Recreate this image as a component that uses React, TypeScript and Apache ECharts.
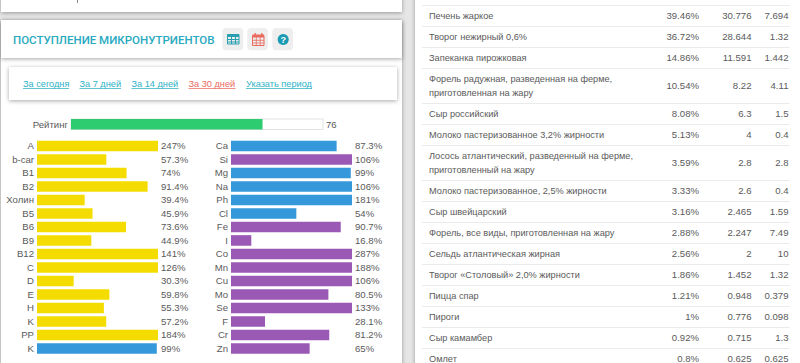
import React, { useEffect, useRef } from "react";
import * as echarts from "echarts";

const FONT = "'Liberation Sans', Arial, sans-serif";
const TABLE_FONT = "'Liberation Sans', Arial, sans-serif";
const YELLOW = "#f4dc00";
const BLUE = "#3498db";
const PURPLE = "#9b59b6";
const TEXT = "#5a5a5a";
const TEAL = "#27a9bf";

const ratingValue = 76;
const vitaminNames = ["A", "b-car", "B1", "B2", "Холин", "B5", "B6", "B9", "B12", "C", "D", "E", "H", "K", "PP", "K"];
const vitaminValues = [247, 57.3, 74, 91.4, 39.4, 45.9, 73.6, 44.9, 141, 126, 30.3, 59.8, 55.3, 57.2, 184, 99];
const vitaminColors = [YELLOW, YELLOW, YELLOW, YELLOW, YELLOW, YELLOW, YELLOW, YELLOW, YELLOW, YELLOW, YELLOW, YELLOW, YELLOW, YELLOW, YELLOW, BLUE];
const mineralNames = ["Ca", "Si", "Mg", "Na", "Ph", "Cl", "Fe", "I", "Co", "Mn", "Cu", "Mo", "Se", "F", "Cr", "Zn"];
const mineralValues = [87.3, 106, 99, 106, 181, 54, 90.7, 16.8, 287, 188, 106, 80.5, 133, 28.1, 81.2, 65];
const mineralColors = [BLUE, PURPLE, BLUE, BLUE, BLUE, BLUE, PURPLE, PURPLE, PURPLE, PURPLE, PURPLE, PURPLE, PURPLE, PURPLE, PURPLE, PURPLE];

const periodLinks = ["За сегодня", "За 7 дней", "За 14 дней", "За 30 дней", "Указать период"];
const periodLinkStart = [23, 79.5, 131.5, 188.5, 246];
const periodLinkEnd = [69, 121, 178.5, 235.5, 312];

const foodNames = [
  "Печень жаркое",
  "Творог нежирный 0,6%",
  "Запеканка пирожковая",
  "Форель радужная, разведенная на ферме,\nприготовленная на жару",
  "Сыр российский",
  "Молоко пастеризованное 3,2% жирности",
  "Лосось атлантический, разведенный на ферме,\nприготовленный на жару",
  "Молоко пастеризованное, 2,5% жирности",
  "Сыр швейцарский",
  "Форель, все виды, приготовленная на жару",
  "Сельдь атлантическая жирная",
  "Творог «Столовый» 2,0% жирности",
  "Пицца спар",
  "Пироги",
  "Сыр камамбер",
  "Омлет",
];
const foodShare = ["39.46%", "36.72%", "14.86%", "10.54%", "8.08%", "5.13%", "3.59%", "3.33%", "3.16%", "2.88%", "2.56%", "1.86%", "1.21%", "1%", "0.92%", "0.8%"];
const foodAmount = ["30.776", "28.644", "11.591", "8.22", "6.3", "4", "2.8", "2.6", "2.465", "2.247", "2", "1.452", "0.948", "0.776", "0.715", "0.625"];
const foodPortion = ["7.694", "1.32", "1.442", "4.11", "1.5", "0.4", "2.8", "0.4", "1.59", "7.49", "10", "1.32", "0.379", "0.098", "1.3", "0.625"];

function tableGraphics() {
  const out: any[] = [];
  let y = 4.5;
  const line = (yy: number) => ({
    type: "rect",
    shape: { x: 422, y: Math.round(yy), width: 368, height: 1 },
    style: { fill: "#e9eced" },
    silent: true,
  });
  out.push(line(y));
  foodNames.forEach((name, i) => {
    const two = name.includes("\n");
    const h = two ? 35 : 21;
    const cy = y + h / 2 + 0.5;
    out.push({
      type: "text", x: 429, y: cy,
      style: { text: name, font: `9.2px ${TABLE_FONT}`, lineHeight: 14, fill: TEXT, align: "left", verticalAlign: "middle" },
    });
    [[699, foodShare[i]], [751.5, foodAmount[i]], [788.5, foodPortion[i]]].forEach(([x, t]) => {
      out.push({
        type: "text", x: x as number, y: cy,
        style: { text: t as string, font: `9.6px ${TABLE_FONT}`, fill: TEXT, align: "right", verticalAlign: "middle" },
      });
    });
    y += h;
    out.push(line(y));
  });
  return out;
}

const panel = (x: number, y: number, w: number, h: number, z = 0) => ({
  type: "rect", z,
  shape: { x, y, width: w, height: h },
  style: { fill: "#ffffff", shadowBlur: 4, shadowColor: "rgba(0,0,0,0.35)", shadowOffsetX: 0, shadowOffsetY: 1 },
  silent: true,
});

function chromeGraphics() {
  const out: any[] = [
    panel(1, 20, 401, 360, 0),
    panel(1, -20, 401, 32, 0),
    panel(415, -10, 400, 400, 0),
    panel(1, 20, 401, 38, 1),
    panel(9, 67, 388, 33, 1),
    { type: "rect", z: 1, shape: { x: 77, y: 0, width: 1, height: 3 }, style: { fill: "#888888" } },
    {
      type: "text", z: 2, x: 13, y: 39.5,
      style: { text: "ПОСТУПЛЕНИЕ МИКРОНУТРИЕНТОВ", font: `500 11.5px Roboto, sans-serif`, fill: TEAL, align: "left", verticalAlign: "middle" },
    },
  ];
  [[222.3, 21], [247.3, 20.7], [272.3, 20.7]].forEach(([x, w]) => {
    out.push({
      type: "rect", z: 2,
      shape: { x, y: 28, width: w, height: 22.3, r: 4 },
      style: { fill: "#eeeeee" },
    });
  });
  // table icon
  out.push({ type: "rect", z: 3, shape: { x: 227.5, y: 34.5, width: 11.5, height: 9.5 }, style: { fill: "none", stroke: "#2a9fb0", lineWidth: 1 } });
  out.push({ type: "rect", z: 3, shape: { x: 227.5, y: 34.5, width: 11.5, height: 2.5 }, style: { fill: "#2a9fb0" } });
  [231.5, 235.5].forEach((x) => out.push({ type: "line", z: 3, shape: { x1: x, y1: 35, x2: x, y2: 44 }, style: { stroke: "#2a9fb0", lineWidth: 1 } }));
  [39.5, 42].forEach((y) => out.push({ type: "line", z: 3, shape: { x1: 228, y1: y, x2: 239, y2: y }, style: { stroke: "#2a9fb0", lineWidth: 1 } }));
  // calendar icon
  out.push({ type: "rect", z: 3, shape: { x: 252.5, y: 35.5, width: 11.5, height: 10 }, style: { fill: "none", stroke: "#ea6a5e", lineWidth: 1 } });
  out.push({ type: "rect", z: 3, shape: { x: 252.5, y: 34.5, width: 11.5, height: 3 }, style: { fill: "#ea6a5e" } });
  [255, 261.5].forEach((x) => out.push({ type: "rect", z: 3, shape: { x: x - 0.5, y: 33, width: 1.4, height: 2 }, style: { fill: "#ea6a5e" } }));
  [256.3, 260.2].forEach((x) => out.push({ type: "line", z: 3, shape: { x1: x, y1: 37, x2: x, y2: 45.5 }, style: { stroke: "#ea6a5e", lineWidth: 0.8 } }));
  [40.3, 43].forEach((y) => out.push({ type: "line", z: 3, shape: { x1: 253, y1: y, x2: 264, y2: y }, style: { stroke: "#ea6a5e", lineWidth: 0.8 } }));
  // help icon
  out.push({ type: "circle", z: 3, shape: { cx: 283.2, cy: 39.5, r: 5.5 }, style: { fill: "#1b9bb3" } });
  out.push({
    type: "text", z: 4, x: 283.2, y: 39.8,
    style: { text: "?", font: `bold 9px ${FONT}`, fill: "#ffffff", align: "center", verticalAlign: "middle" },
  });
  // links
  periodLinks.forEach((t, i) => {
    const color = i === 3 ? "#ea6a5e" : "#2db2c6";
    const scaleW = periodLinkEnd[i] - periodLinkStart[i];
    out.push({
      type: "text", z: 3, x: periodLinkStart[i], y: 83.5,
      style: { text: t, font: `9.2px ${FONT}`, fill: color, align: "left", verticalAlign: "middle" },
    });
    out.push({
      type: "rect", z: 3,
      shape: { x: periodLinkStart[i], y: 88, width: scaleW, height: 1 },
      style: { fill: color, opacity: 0.75 },
    });
  });
  return out;
}

const axisLabel = { color: TEXT, fontFamily: FONT, fontSize: 9.6 };

function barSet(idx: number, left: number, names: string[], values: number[], colors: string[]) {
  const grid = { left, top: 139.2, width: 121, height: 216, containLabel: false };
  const xAxis = { gridIndex: idx, type: "value", min: 0, max: 100, show: false };
  const mk = (position: string, data: string[]) => ({
    gridIndex: idx,
    type: "category",
    inverse: true,
    position,
    data,
    axisLine: { show: false },
    axisTick: { show: false },
    axisLabel: { ...axisLabel, margin: 3, align: position === "left" ? "right" : "left", interval: 0 },
  });
  return { grid, xAxis, yAxes: [mk("left", names), mk("right", values.map((v) => `${v}%`))] };
}

export default function App() {
  const ref = useRef<HTMLDivElement>(null);
  useEffect(() => {
    if (!ref.current) return;
    const chart = echarts.init(ref.current, undefined, { renderer: "svg" });
    const a = barSet(1, 37, vitaminNames, vitaminValues, vitaminColors);
    const b = barSet(2, 231, mineralNames, mineralValues, mineralColors);
    const bar = (xAxisIndex: number, yAxisIndex: number, values: number[], colors: string[]) => ({
      type: "bar",
      xAxisIndex,
      yAxisIndex,
      clip: true,
      barWidth: 10.6,
      silent: true,
      data: values.map((v, i) => ({
        value: v,
        itemStyle: { color: colors[i] },
      })),
    });
    chart.setOption({
      animation: false,
      backgroundColor: "#e6e6e6",
      grid: [{ left: 71, top: 119, width: 252, height: 10.5 }, a.grid, b.grid],
      xAxis: [{ gridIndex: 0, type: "value", min: 0, max: 100, show: false }, a.xAxis, b.xAxis],
      yAxis: [
        {
          gridIndex: 0, type: "category", data: ["Рейтинг"], position: "left",
          axisLine: { show: false }, axisTick: { show: false },
          axisLabel: { ...axisLabel, margin: 3 },
        },
        {
          gridIndex: 0, type: "category", data: [String(ratingValue)], position: "right",
          axisLine: { show: false }, axisTick: { show: false },
          axisLabel: { ...axisLabel, margin: 3 },
        },
        ...a.yAxes,
        ...b.yAxes,
      ],
      series: [
        {
          type: "bar", xAxisIndex: 0, yAxisIndex: 0, barWidth: 10.5, silent: true,
          data: [ratingValue],
          itemStyle: { color: "#2ecc71" },
          showBackground: true,
          backgroundStyle: { color: "#ffffff", borderColor: "#e2e2e2", borderWidth: 1 },
        },
        bar(1, 2, vitaminValues, vitaminColors),
        bar(2, 4, mineralValues, mineralColors),
      ],
      graphic: { elements: [...chromeGraphics(), ...tableGraphics()] },
    });
    return () => chart.dispose();
  }, []);
  return <div ref={ref} style={{ position: "fixed", left: 0, top: 0, width: 800, height: 363 }} />;
}
